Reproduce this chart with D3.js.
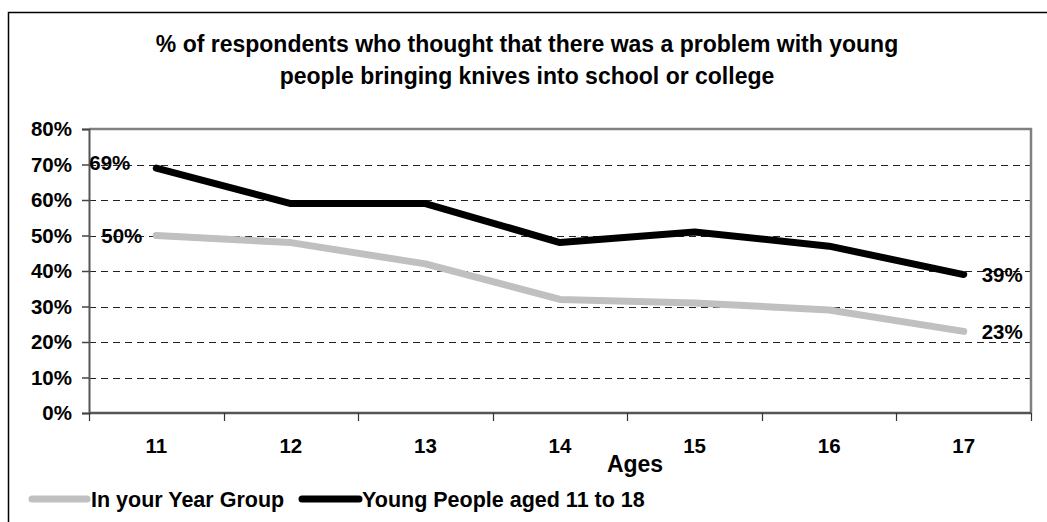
<!DOCTYPE html>
<html>
<head>
<meta charset="utf-8">
<script src="https://cdn.jsdelivr.net/npm/d3@7"></script>
<style>
  html, body { margin: 0; padding: 0; background: #fff; }
  svg { display: block; font-family: "Liberation Sans", Arial, sans-serif; font-weight: bold; }
</style>
</head>
<body>
<svg id="chart" width="1047" height="522"></svg>
<script>
// Survey data: share of respondents seeing a problem with knives in school/college
const ages = ["11", "12", "13", "14", "15", "16", "17"];
const yearGroup = [50, 48, 42, 32, 31, 29, 23];
const youngPeople = [69, 59, 59, 48, 51, 47, 39];
const yTicks = [0, 10, 20, 30, 40, 50, 60, 70, 80];
const seriesNames = ["In your Year Group", "Young People aged 11 to 18"];
const titleLines = [
  "% of respondents who thought that there was a problem with young",
  "people bringing knives into school or college"
];

const svg = d3.select("#chart");
const W = 1047, H = 522;
const plot = { left: 89, right: 1031, top: 129, bottom: 413 };
const FONT = "Liberation Sans, Arial, sans-serif";

// Outer chart frame
svg.append("rect")
  .attr("x", 8.5).attr("y", 12.5)
  .attr("width", W + 20).attr("height", H + 20)
  .attr("fill", "none").attr("stroke", "#000").attr("stroke-width", 1.5);

// Title
svg.append("g").selectAll("text").data(titleLines).join("text")
  .attr("x", 527).attr("y", (d, i) => 52 + i * 32)
  .attr("text-anchor", "middle")
  .attr("font-size", 23)
  .text(d => d);

const x = d3.scaleBand().domain(ages).range([plot.left, plot.right]).padding(0);
const y = d3.scaleLinear().domain([0, 80]).range([plot.bottom, plot.top]);
const cx = d => x(d) + x.bandwidth() / 2;

// Dashed gridlines
svg.append("g").selectAll("line").data(yTicks.filter(t => t > 0 && t < 80)).join("line")
  .attr("x1", plot.left).attr("x2", plot.right)
  .attr("y1", d => Math.round(y(d)) + 0.5).attr("y2", d => Math.round(y(d)) + 0.5)
  .attr("stroke", "#222").attr("stroke-width", 1)
  .attr("stroke-dasharray", "7,5");

// Plot frame top/right
svg.append("path")
  .attr("d", `M${plot.left},${plot.top}H${plot.right}V${plot.bottom}`)
  .attr("fill", "none").attr("stroke", "#808080").attr("stroke-width", 2.5);

// Y axis
const yAxis = svg.append("g")
  .attr("transform", `translate(${plot.left},0)`)
  .call(d3.axisLeft(y).tickValues(yTicks).tickFormat(d => d + "%").tickSize(7).tickPadding(10));
yAxis.select(".domain").attr("stroke", "#555").attr("stroke-width", 2);
yAxis.selectAll(".tick line").attr("stroke", "#444").attr("stroke-width", 1.5);
yAxis.selectAll(".tick text")
  .attr("font-size", 20.5).attr("font-weight", "bold")
  .attr("font-family", FONT).attr("fill", "#000");

// X axis: labels centred in each band, ticks at band edges
const xAxis = svg.append("g")
  .attr("transform", `translate(0,${plot.bottom})`)
  .call(d3.axisBottom(x).tickSize(0).tickPadding(0));
xAxis.select(".domain").remove();
xAxis.selectAll(".tick text")
  .attr("dy", 0).attr("y", 40)
  .attr("font-size", 20.5).attr("font-weight", "bold")
  .attr("font-family", FONT).attr("fill", "#000");

const edges = ages.map(a => x(a)).concat([plot.right]);
svg.append("line")
  .attr("x1", plot.left).attr("x2", plot.right)
  .attr("y1", plot.bottom).attr("y2", plot.bottom)
  .attr("stroke", "#555").attr("stroke-width", 2.5);
svg.append("g").selectAll("line").data(edges).join("line")
  .attr("x1", d => Math.round(d) + 0.5).attr("x2", d => Math.round(d) + 0.5)
  .attr("y1", plot.bottom).attr("y2", plot.bottom + 8)
  .attr("stroke", "#333").attr("stroke-width", 1.2);

// Axis title
svg.append("text")
  .attr("x", 635).attr("y", 472)
  .attr("text-anchor", "middle").attr("font-size", 23)
  .text("Ages");

// Series lines
const line = d3.line().x((d, i) => cx(ages[i])).y(d => y(d));
const series = [
  { name: seriesNames[0], values: yearGroup, color: "#c0c0c0" },
  { name: seriesNames[1], values: youngPeople, color: "#000" }
];
svg.append("g").selectAll("path").data(series).join("path")
  .attr("d", d => line(d.values))
  .attr("fill", "none").attr("stroke", d => d.color)
  .attr("stroke-width", 7).attr("stroke-linejoin", "round").attr("stroke-linecap", "round");

// End-point value labels
const last = ages.length - 1;
const labels = [
  { v: youngPeople[0], px: cx(ages[0]) - 26, anchor: "end", dy: -5 },
  { v: yearGroup[0], px: cx(ages[0]) - 14, anchor: "end", dy: 0 },
  { v: youngPeople[last], px: cx(ages[last]) + 18, anchor: "start", dy: 0 },
  { v: yearGroup[last], px: cx(ages[last]) + 18, anchor: "start", dy: 0 }
];
svg.append("g").selectAll("text").data(labels).join("text")
  .attr("x", d => d.px).attr("y", d => y(d.v) + d.dy)
  .attr("dy", "0.35em")
  .attr("text-anchor", d => d.anchor)
  .attr("font-size", 20.5)
  .text(d => d.v + "%");

// Legend
const legend = svg.append("g");
const legendItems = [
  { s: series[0], x0: 32, x1: 87, tx: 91 },
  { s: series[1], x0: 302, x1: 359, tx: 362 }
];
legend.selectAll("line").data(legendItems).join("line")
  .attr("x1", d => d.x0).attr("x2", d => d.x1)
  .attr("y1", 499).attr("y2", 499)
  .attr("stroke", d => d.s.color).attr("stroke-width", 7).attr("stroke-linecap", "round");
legend.selectAll("text").data(legendItems).join("text")
  .attr("x", d => d.tx).attr("y", 507)
  .attr("font-size", 21.5)
  .text(d => d.s.name);
</script>
</body>
</html>
